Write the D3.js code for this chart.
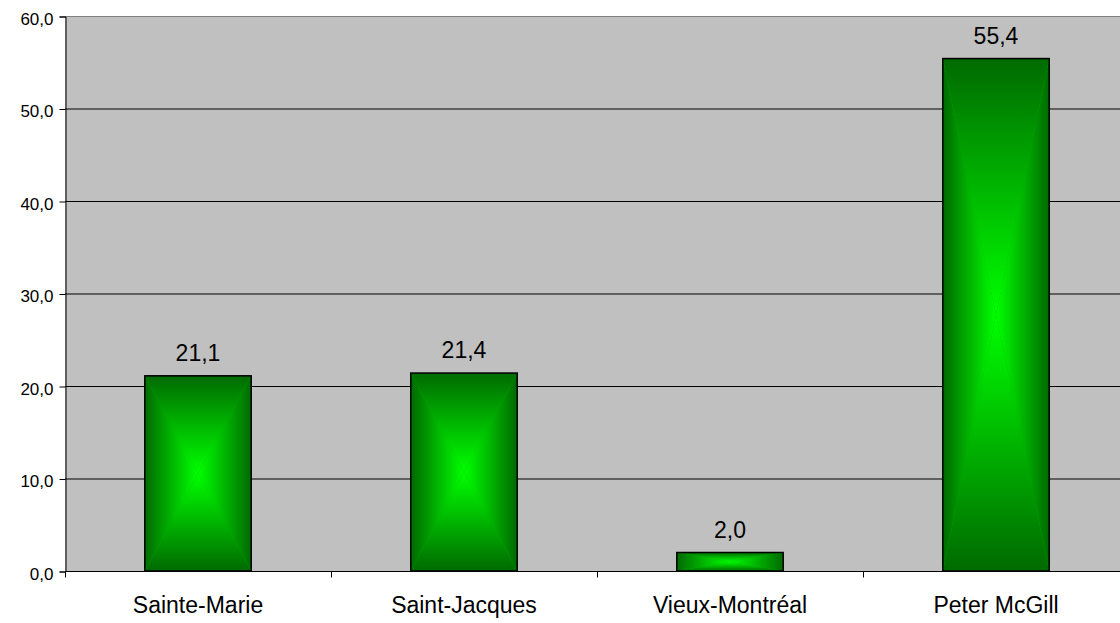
<!DOCTYPE html>
<html><head><meta charset="utf-8">
<script src="https://cdn.jsdelivr.net/npm/d3@7"></script>
<style>body{margin:0;background:#fff}svg{display:block}text{font-family:"Liberation Sans",Arial,sans-serif;fill:#000}</style>
</head><body>
<script>
const categories = ["Sainte-Marie", "Saint-Jacques", "Vieux-Montréal", "Peter McGill"];
const values = [21.1, 21.4, 2.0, 55.4];
const yTicks = [0, 10, 20, 30, 40, 50, 60];

const W = 1120, H = 623;
const mLeft = 65, mRight = 1129, mTop = 16, mBottom = 571;
const svg = d3.select("body").append("svg").attr("width", W).attr("height", H);
const x = d3.scaleBand().domain(categories).range([mLeft, mRight]).padding(0);
const y = d3.scaleLinear().domain([0, 60]).range([mBottom, mTop]);
const fmt = v => d3.format(".1f")(v).replace(".", ",");

const defs = svg.append("defs");
const dark = "#006a00", bright = "#00ff00";
function lg(id, x1, y1, x2, y2) {
  const g = defs.append("linearGradient").attr("id", id)
    .attr("x1", x1).attr("y1", y1).attr("x2", x2).attr("y2", y2);
  g.append("stop").attr("offset", 0).attr("stop-color", dark);
  g.append("stop").attr("offset", 1).attr("stop-color", bright);
}
lg("gT", 0, 0, 0, 1); lg("gB", 0, 1, 0, 0); lg("gL", 0, 0, 1, 0); lg("gR", 1, 0, 0, 0);

svg.append("rect").attr("x", mLeft).attr("y", mTop).attr("width", W - mLeft).attr("height", mBottom - mTop).attr("fill", "#c0c0c0");

// gridlines
svg.append("g").selectAll("line").data(yTicks.filter(t => t > 0 && t < 60)).join("line")
  .attr("x1", mLeft).attr("x2", W).attr("y1", d => y(d) + 0.5).attr("y2", d => y(d) + 0.5)
  .attr("stroke", "#000").attr("stroke-width", 1);
svg.append("line").attr("x1", mLeft).attr("x2", W).attr("y1", mTop + 0.5).attr("y2", mTop + 0.5).attr("stroke", "#808080");

// y axis
const yAxis = d3.axisLeft(y).tickValues(yTicks).tickFormat(fmt).tickSize(6).tickPadding(6);
const gy = svg.append("g").attr("transform", `translate(${mLeft + 0.5},0.5)`).call(yAxis);
gy.select(".domain").attr("stroke", "#000");
gy.selectAll(".tick line").attr("stroke", "#000");
gy.selectAll("text").style("font-size", "17px").attr("dy", "0.45em");

// bars
const bw = x.step() / 2.5;
const bars = svg.append("g").selectAll("g").data(categories.map((c, i) => ({c, v: values[i]}))).join("g");
bars.each(function(d) {
  const g = d3.select(this);
  const x0 = x(d.c) + (x.bandwidth() - bw) / 2, x1 = x0 + bw;
  const y0 = y(d.v), y1 = y(0);
  const cx = (x0 + x1) / 2, cy = (y0 + y1) / 2;
  g.append("rect").attr("x", x0).attr("y", y0).attr("width", bw).attr("height", y1 - y0).attr("fill", "#00b000");
  g.append("path").attr("d", `M${x0},${y0}L${x1},${y0}L${cx},${cy}Z`).attr("fill", "url(#gT)");
  g.append("path").attr("d", `M${x0},${y1}L${x1},${y1}L${cx},${cy}Z`).attr("fill", "url(#gB)");
  g.append("path").attr("d", `M${x0},${y0}L${x0},${y1}L${cx},${cy}Z`).attr("fill", "url(#gL)");
  g.append("path").attr("d", `M${x1},${y0}L${x1},${y1}L${cx},${cy}Z`).attr("fill", "url(#gR)");
  g.append("rect").attr("x", x0).attr("y", y0).attr("width", bw).attr("height", y1 - y0)
    .attr("fill", "none").attr("stroke", "#000").attr("stroke-width", 1.5);
  g.append("text").attr("x", cx).attr("y", y0 - 15).attr("text-anchor", "middle")
    .style("font-size", "23px").text(fmt(d.v));
});

// x axis
const xAxis = d3.axisBottom(x).tickSize(0).tickPadding(25);
const gx = svg.append("g").attr("transform", `translate(0,${mBottom + 0.5})`).call(xAxis);
gx.select(".domain").remove();
gx.append("line").attr("x1", mLeft).attr("x2", W).attr("stroke", "#000");
gx.selectAll(".tick text").style("font-size", "23px");
gx.append("g").selectAll("line").data(categories).join("line")
  .attr("x1", d => Math.round(x(d)) + 0.5).attr("x2", d => Math.round(x(d)) + 0.5)
  .attr("y1", 0).attr("y2", 6).attr("stroke", "#000");
</script>
</body></html>
